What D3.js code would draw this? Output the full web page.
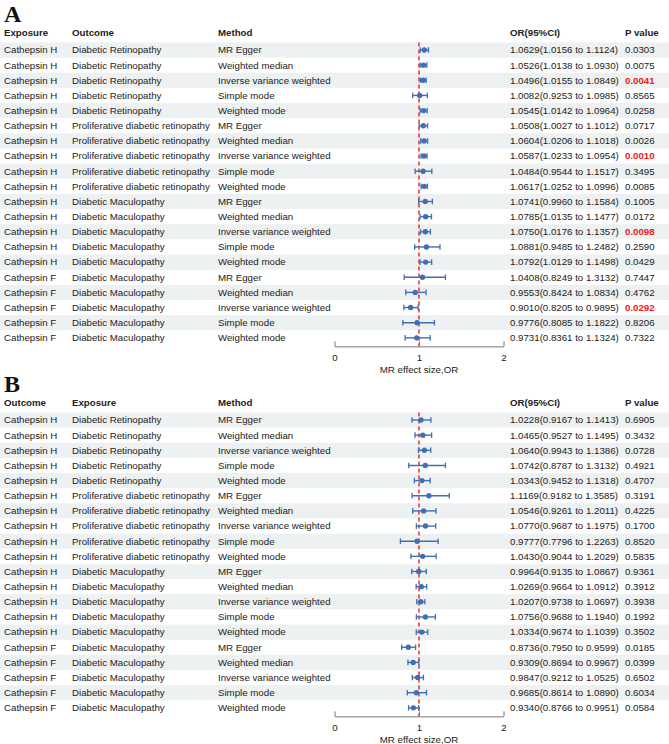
<!DOCTYPE html>
<html>
<head>
<meta charset="utf-8">
<script src="https://cdn.jsdelivr.net/npm/d3@7"></script>
<style>
  body { margin: 0; background: #fff; }
  text { font-family: "Liberation Sans", Arial, sans-serif; }
</style>
</head>
<body>
<div id="chart"></div>
<script>
// shared row labels
var exposures = ["Cathepsin H","Cathepsin H","Cathepsin H","Cathepsin H","Cathepsin H",
  "Cathepsin H","Cathepsin H","Cathepsin H","Cathepsin H","Cathepsin H",
  "Cathepsin H","Cathepsin H","Cathepsin H","Cathepsin H","Cathepsin H",
  "Cathepsin F","Cathepsin F","Cathepsin F","Cathepsin F","Cathepsin F"];
var outcomes = ["Diabetic Retinopathy","Diabetic Retinopathy","Diabetic Retinopathy","Diabetic Retinopathy","Diabetic Retinopathy",
  "Proliferative diabetic retinopathy","Proliferative diabetic retinopathy","Proliferative diabetic retinopathy","Proliferative diabetic retinopathy","Proliferative diabetic retinopathy",
  "Diabetic Maculopathy","Diabetic Maculopathy","Diabetic Maculopathy","Diabetic Maculopathy","Diabetic Maculopathy",
  "Diabetic Maculopathy","Diabetic Maculopathy","Diabetic Maculopathy","Diabetic Maculopathy","Diabetic Maculopathy"];
var methods = ["MR Egger","Weighted median","Inverse variance weighted","Simple mode","Weighted mode"];

// panel A
var orA  = [1.0629,1.0526,1.0496,1.0082,1.0545, 1.0508,1.0604,1.0587,1.0484,1.0617,
            1.0741,1.0785,1.0750,1.0881,1.0792, 1.0408,0.9553,0.9010,0.9776,0.9731];
var lowA = [1.0156,1.0138,1.0155,0.9253,1.0142, 1.0027,1.0206,1.0233,0.9544,1.0252,
            0.9960,1.0135,1.0176,0.9485,1.0129, 0.8249,0.8424,0.8205,0.8085,0.8361];
var upA  = [1.1124,1.0930,1.0849,1.0985,1.0964, 1.1012,1.1018,1.0954,1.1517,1.0996,
            1.1584,1.1477,1.1357,1.2482,1.1498, 1.3132,1.0834,0.9895,1.1822,1.1324];
var pA   = ["0.0303","0.0075","0.0041","0.8565","0.0258", "0.0717","0.0026","0.0010","0.3495","0.0085",
            "0.1005","0.0172","0.0098","0.2590","0.0429", "0.7447","0.4762","0.0292","0.8206","0.7322"];
var redA = [2, 7, 12, 17];

// panel B
var orB  = [1.0228,1.0465,1.0640,1.0742,1.0343, 1.1169,1.0546,1.0770,0.9777,1.0430,
            0.9964,1.0269,1.0207,1.0756,1.0334, 0.8736,0.9309,0.9847,0.9685,0.9340];
var lowB = [0.9167,0.9527,0.9943,0.8787,0.9452, 0.9182,0.9261,0.9687,0.7796,0.9044,
            0.9135,0.9664,0.9738,0.9688,0.9674, 0.7950,0.8694,0.9212,0.8614,0.8766];
var upB  = [1.1413,1.1495,1.1386,1.3132,1.1318, 1.3585,1.2011,1.1975,1.2263,1.2029,
            1.0867,1.0912,1.0697,1.1940,1.1039, 0.9599,0.9967,1.0525,1.0890,0.9951];
var pB   = ["0.6905","0.3432","0.0728","0.4921","0.4707", "0.3191","0.4225","0.1700","0.8520","0.5835",
            "0.9361","0.3912","0.3938","0.1992","0.3502", "0.0185","0.0399","0.6502","0.6034","0.0584"];
var redB = [];

var xTicks = [0, 1, 2];

var W = 669, H = 744;
var rowH = 15.15;
var fontSize = 9.7;
var blue = "#3f6fb5", red = "#e8302a", stripe = "#eef1f1";

var svg = d3.select("#chart").append("svg")
  .attr("width", W).attr("height", H);

var x = d3.scaleLinear().domain([0, 2]).range([334.5, 503.5]);

function fmt(v) { return d3.format(".4f")(v); }

function drawPanel(letter, top, headers, or, low, up, pv, redRows) {
  var g = svg.append("g");
  var firstRow = top + 30;  // centre of first data row
  var n = or.length;
  var yRow = function (i) { return firstRow + i * rowH; };

  g.append("text")
    .attr("x", 4).attr("y", top + 2)
    .style("font-family", "'Liberation Serif', 'Times New Roman', serif")
    .attr("font-weight", "bold").attr("font-size", 24)
    .attr("fill", "#111")
    .text(letter);

  // stripes
  g.selectAll(".stripe").data(d3.range(n).filter(function (i) { return i % 2 == 0; }))
    .enter().append("rect")
    .attr("x", 0).attr("width", W)
    .attr("y", function (i) { return yRow(i) - rowH / 2; })
    .attr("height", rowH)
    .attr("fill", stripe);

  // header
  var colX = [4, 72, 218, 510, 625];
  var hy = firstRow - 17;
  headers.forEach(function (h, k) {
    g.append("text")
      .attr("x", colX[k]).attr("y", hy)
      .attr("dy", "0.35em")
      .attr("font-size", fontSize).attr("font-weight", "bold")
      .attr("fill", "#222")
      .text(h);
  });

  var rows = d3.range(n);
  var cols = [
    function (i) { return exposures[i]; },
    function (i) { return outcomes[i]; },
    function (i) { return methods[i % 5]; },
    function (i) { return fmt(or[i]) + "(" + fmt(low[i]) + " to " + fmt(up[i]) + ")"; }
  ];
  cols.forEach(function (f, k) {
    g.selectAll(".c" + k).data(rows).enter().append("text")
      .attr("x", colX[k]).attr("y", yRow)
      .attr("dy", "0.35em")
      .attr("font-size", fontSize).attr("fill", "#222")
      .text(f);
  });
  g.selectAll(".pv").data(rows).enter().append("text")
    .attr("x", colX[4]).attr("y", yRow)
    .attr("dy", "0.35em")
    .attr("font-size", fontSize)
    .attr("font-weight", function (i) { return redRows.indexOf(i) >= 0 ? "bold" : "normal"; })
    .attr("fill", function (i) { return redRows.indexOf(i) >= 0 ? "#e8201a" : "#222"; })
    .text(function (i) { return pv[i]; });

  var axisY = yRow(n - 1) + 8.5;

  // reference line
  g.append("line")
    .attr("x1", x(1)).attr("x2", x(1))
    .attr("y1", firstRow - rowH / 2).attr("y2", axisY)
    .attr("stroke", red).attr("stroke-width", 1.5)
    .attr("stroke-dasharray", "4,3");

  // error bars
  var eb = g.selectAll(".eb").data(rows).enter().append("g");
  eb.append("line")
    .attr("x1", function (i) { return x(low[i]); })
    .attr("x2", function (i) { return x(up[i]); })
    .attr("y1", yRow).attr("y2", yRow)
    .attr("stroke", blue).attr("stroke-width", 1.4);
  [low, up].forEach(function (arr) {
    eb.append("line")
      .attr("x1", function (i) { return x(arr[i]); })
      .attr("x2", function (i) { return x(arr[i]); })
      .attr("y1", function (i) { return yRow(i) - 2.8; })
      .attr("y2", function (i) { return yRow(i) + 2.8; })
      .attr("stroke", blue).attr("stroke-width", 1.3);
  });
  eb.append("circle")
    .attr("cx", function (i) { return x(or[i]); })
    .attr("cy", yRow)
    .attr("r", 2.7)
    .attr("fill", blue);

  // axis
  var ax = g.append("g")
    .attr("transform", "translate(0," + axisY + ")")
    .call(d3.axisTop(x).tickValues(xTicks).tickFormat(d3.format("d")).tickSize(5).tickSizeOuter(0));
  ax.select(".domain").attr("stroke", "#777");
  ax.selectAll(".tick line").attr("stroke", "#777");
  ax.selectAll(".tick text")
    .attr("y", 11).attr("dy", "0.35em")
    .attr("font-size", fontSize).attr("fill", "#222")
    .style("font-family", "'Liberation Sans', Arial, sans-serif");

  g.append("text")
    .attr("x", x(1)).attr("y", axisY + 23)
    .attr("dy", "0.35em")
    .attr("text-anchor", "middle")
    .attr("font-size", fontSize).attr("fill", "#222")
    .text("MR effect size,OR");
}

drawPanel("A", 20, ["Exposure", "Outcome", "Method", "OR(95%CI)", "P value"], orA, lowA, upA, pA, redA);
drawPanel("B", 390, ["Outcome", "Exposure", "Method", "OR(95%CI)", "P value"], orB, lowB, upB, pB, redB);
</script>
</body>
</html>
